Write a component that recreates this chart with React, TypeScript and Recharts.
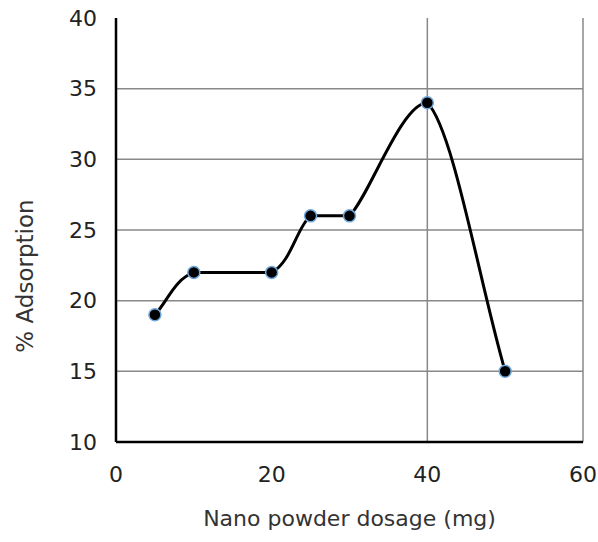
import React from 'react';
import {
  LineChart,
  Line,
  XAxis,
  YAxis,
  ReferenceLine,
  Label,
} from 'recharts';

// dosage (mg) vs % adsorption
const dosage = [5, 10, 20, 25, 30, 40, 50];
const adsorption = [19, 22, 22, 26, 26, 34, 15];

const xTicks = [0, 20, 40, 60];
const yTicks = [10, 15, 20, 25, 30, 35, 40];
const gridY = [15, 20, 25, 30, 35];
const gridX = [40, 60];

const data = dosage.map((d, i) => ({ dosage: d, value: adsorption[i] }));

const font = '"DejaVu Sans", Verdana, sans-serif';

// smoothed line similar to a spreadsheet's "smoothed line", without overshoot
function smoothCurve(context: any) {
  let pts: number[][] = [];
  const clamp = (v: number, a: number, b: number) =>
    Math.max(Math.min(a, b), Math.min(Math.max(a, b), v));
  return {
    areaStart() {},
    areaEnd() {},
    lineStart() {
      pts = [];
    },
    point(x: number, y: number) {
      pts.push([+x, +y]);
    },
    lineEnd() {
      const n = pts.length;
      if (!n) return;
      context.moveTo(pts[0][0], pts[0][1]);
      for (let i = 0; i < n - 1; i++) {
        const p1 = pts[i];
        const p2 = pts[i + 1];
        // mirror phantom points at the ends
        const p0 = pts[i - 1] || [2 * p1[0] - p2[0], 2 * p1[1] - p2[1]];
        const p3 = pts[i + 2] || [2 * p2[0] - p1[0], 2 * p2[1] - p1[1]];
        const c1x = p1[0] + (p2[0] - p0[0]) / 6;
        const c1y = clamp(p1[1] + (p2[1] - p0[1]) / 6, p1[1], p2[1]);
        const c2x = p2[0] - (p3[0] - p1[0]) / 6;
        const c2y = clamp(p2[1] - (p3[1] - p1[1]) / 6, p1[1], p2[1]);
        context.bezierCurveTo(c1x, c1y, c2x, c2y, p2[0], p2[1]);
      }
    },
  };
}

const YLabel = () => (
  <text
    x={0}
    y={0}
    transform="translate(33, 276) rotate(-90)"
    textAnchor="middle"
    fontFamily={font}
    fontSize={23}
    fill="#333"
  >
    % Adsorption
  </text>
);

export default function App() {
  return (
    <div style={{ position: 'absolute', left: 0, top: 0, background: '#fff' }}>
      <LineChart
        width={598}
        height={542}
        data={data}
        margin={{ top: 18, right: 15, left: 0, bottom: 20 }}
      >
        {gridY.map((y) => (
          <ReferenceLine key={'y' + y} y={y} stroke="#888" strokeWidth={1.5} />
        ))}
        {gridX.map((x) => (
          <ReferenceLine key={'x' + x} x={x} stroke="#888" strokeWidth={1.5} />
        ))}
        <XAxis
          type="number"
          dataKey="dosage"
          domain={[0, 60]}
          ticks={xTicks}
          height={80}
          tickLine={false}
          tickSize={0}
          tickMargin={24}
          axisLine={{ stroke: '#000', strokeWidth: 2.5 }}
          tick={{ fill: '#222', fontSize: 22, fontFamily: font }}
        >
          <Label
            value="Nano powder dosage (mg)"
            position="insideBottom"
            offset={-4}
            fill="#333"
            fontSize={22}
            fontFamily={font}
          />
        </XAxis>
        <YAxis
          type="number"
          domain={[10, 40]}
          ticks={yTicks}
          width={116}
          tickLine={false}
          tickSize={0}
          tickMargin={19}
          axisLine={{ stroke: '#000', strokeWidth: 2.5 }}
          tick={{ fill: '#222', fontSize: 22, fontFamily: font }}
        >
          <Label content={<YLabel />} />
        </YAxis>
        <Line
          dataKey="value"
          type={smoothCurve as any}
          stroke="#000"
          strokeWidth={3}
          dot={{ r: 6, fill: '#000', stroke: '#6fa8dc', strokeWidth: 1.5 }}
          isAnimationActive={false}
        />
      </LineChart>
    </div>
  );
}
